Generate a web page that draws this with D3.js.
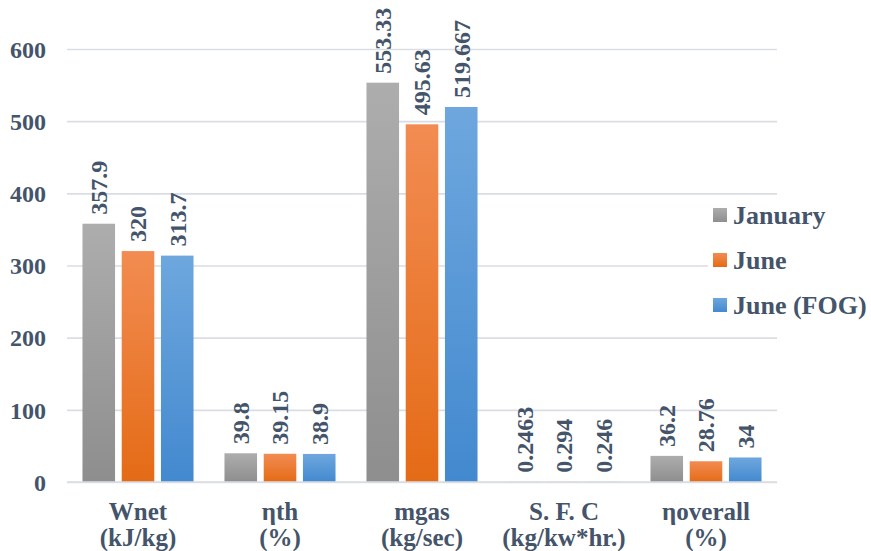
<!DOCTYPE html>
<html><head><meta charset="utf-8">
<script src="https://cdn.jsdelivr.net/npm/d3@7"></script>
<style>
html,body{margin:0;padding:0;background:#fff;}
svg text{font-family:"Liberation Serif","Times New Roman",serif !important;font-weight:bold;fill:#44546A;}
</style></head>
<body><svg id="chart" width="871" height="551"></svg>
<script>
const categories = [["Wnet","(kJ/kg)"],["ηth","(%)"],["mgas","(kg/sec)"],["S. F. C","(kg/kw*hr.)"],["ηoverall","(%)"]];
const seriesNames = ["January","June","June (FOG)"];
const january = [357.9, 39.8, 553.33, 0.2463, 36.2];
const june = [320, 39.15, 495.63, 0.294, 28.76];
const juneFog = [313.7, 38.9, 519.667, 0.246, 34];
const januaryLabels = ["357.9","39.8","553.33","0.2463","36.2"];
const juneLabels = ["320","39.15","495.63","0.294","28.76"];
const juneFogLabels = ["313.7","38.9","519.667","0.246","34"];
const yTicks = [0,100,200,300,400,500,600];

const seriesValues = [january, june, juneFog];
const seriesLabels = [januaryLabels, juneLabels, juneFogLabels];
const gradStops = [["#adadad","#8e8e8e"],["#f28c52","#e46b16"],["#6ea7de","#4389cf"]];
const FONT = "'Liberation Serif','Times New Roman',serif";

const svg = d3.select("#chart");
const defs = svg.append("defs");
gradStops.forEach((g,i)=>{
  const lg = defs.append("linearGradient").attr("id","g"+i).attr("x1",0).attr("y1",0).attr("x2",0).attr("y2",1);
  lg.append("stop").attr("offset","0%").attr("stop-color",g[0]);
  lg.append("stop").attr("offset","100%").attr("stop-color",g[1]);
});

const y = d3.scaleLinear().domain([0,600]).range([482,49]);
const x0 = d3.scaleBand().domain(d3.range(categories.length)).range([67,777]).padding(0);
const bw = x0.bandwidth();
const x1 = d3.scaleBand().domain(d3.range(3)).range([bw*0.109, bw*0.891]).paddingInner(0.17);

// gridlines
const yAxis = d3.axisLeft(y).tickValues(yTicks).tickSize(-(777-67)).tickFormat(d3.format("d"));
const ga = svg.append("g").attr("transform","translate(67,0)").call(yAxis);
ga.attr("font-family",FONT);
ga.select(".domain").remove();
ga.selectAll(".tick line").attr("stroke","#dadde3").attr("stroke-width",1.6);
ga.selectAll(".tick text").attr("x",-21).attr("font-size",24).attr("dy","0.34em");

// bars
const groups = svg.append("g").attr("font-family",FONT).selectAll("g").data(categories).join("g")
  .attr("transform",(d,i)=>`translate(${x0(i)},0)`);
groups.each(function(c,ci){
  const g = d3.select(this);
  seriesValues.forEach((vals,si)=>{
    const v = vals[ci];
    g.append("rect").attr("x",x1(si)).attr("y",y(v)).attr("width",x1.bandwidth())
      .attr("height",Math.max(0,y(0)-y(v))).attr("fill",`url(#g${si})`);
    const cx = x1(si)+x1.bandwidth()/2;
    g.append("text").attr("transform",`translate(${cx},${y(v)-9}) rotate(-90)`)
      .attr("dy","0.35em").attr("font-size",24).text(seriesLabels[si][ci]);
  });
  g.append("text").attr("x",bw/2).attr("y",520).attr("text-anchor","middle").attr("font-size",25).text(c[0]);
  g.append("text").attr("x",bw/2).attr("y",546).attr("text-anchor","middle").attr("font-size",25).text(c[1]);
});

// baseline
svg.append("line").attr("x1",67).attr("x2",777).attr("y1",y(0)).attr("y2",y(0)).attr("stroke","#dadde3").attr("stroke-width",1.6);

// legend
const leg = svg.append("g").attr("font-family",FONT);
leg.append("rect").attr("x",708).attr("y",197).attr("width",163).attr("height",130).attr("fill","#fff");
seriesNames.forEach((n,i)=>{
  const cy = 215 + i*45;
  leg.append("rect").attr("x",713).attr("y",cy-7).attr("width",14).attr("height",14).attr("fill",`url(#g${i})`);
  leg.append("text").attr("x",733).attr("y",cy).attr("dy","0.35em").attr("font-size",26).text(n);
});
</script></body></html>
